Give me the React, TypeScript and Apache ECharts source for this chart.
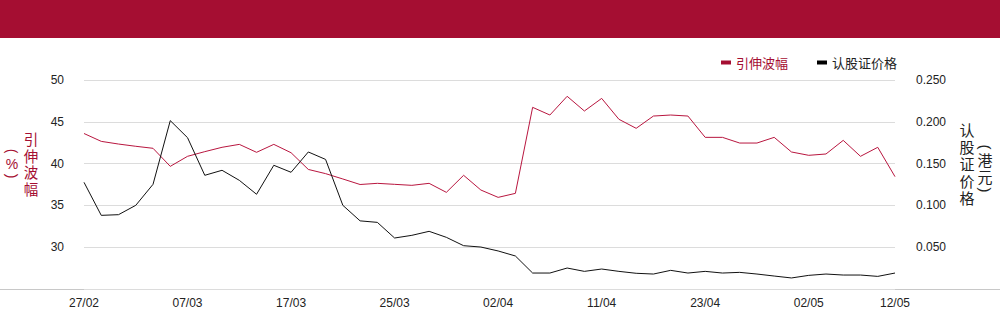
import React, { useEffect, useRef } from "react";
import * as echarts from "echarts";

const categories = [
  "27/02", "28/02", "03/03", "04/03", "05/03", "06/03", "07/03", "10/03", "11/03", "12/03",
  "13/03", "14/03", "17/03", "18/03", "19/03", "20/03", "21/03", "24/03", "25/03", "26/03",
  "27/03", "28/03", "31/03", "01/04", "02/04", "03/04", "07/04", "08/04", "09/04", "10/04",
  "11/04", "14/04", "15/04", "16/04", "17/04", "22/04", "23/04", "24/04", "25/04", "28/04",
  "29/04", "30/04", "02/05", "06/05", "07/05", "08/05", "09/05", "12/05",
];

const volatility = [
  43.6, 42.66, 42.34, 42.07, 41.83, 39.67, 40.87, 41.43, 41.95, 42.3,
  41.35, 42.3, 41.3, 39.3, 38.8, 38.16, 37.5, 37.64, 37.52, 37.4,
  37.64, 36.56, 38.6, 36.84, 35.96, 36.44, 46.73, 45.81, 48.05, 46.29,
  47.8, 45.3, 44.22, 45.69, 45.81, 45.69, 43.14, 43.14, 42.46, 42.46,
  43.14, 41.39, 40.99, 41.15, 42.78, 40.87, 41.95, 38.44,
];

const warrantPrice = [
  0.1276, 0.0881, 0.0889, 0.1001, 0.1252, 0.2014, 0.181, 0.136, 0.142, 0.13,
  0.1133, 0.148, 0.1396, 0.1639, 0.155, 0.1001, 0.0815, 0.0797, 0.061, 0.0642,
  0.069, 0.0618, 0.0518, 0.0502, 0.0455, 0.0395, 0.0191, 0.0191, 0.0251, 0.0211,
  0.0239, 0.0211, 0.0188, 0.0179, 0.0223, 0.0191, 0.0211, 0.0191, 0.0199, 0.0179,
  0.0155, 0.0132, 0.0163, 0.0179, 0.0167, 0.0167, 0.0151, 0.0191,
];

const leftTicks = { min: 25, max: 50, interval: 5 };
const rightTicks = { min: 0, max: 0.25, interval: 0.05 };

const leftNameChars = ["引", "伸", "波", "幅"];
const leftUnitChars = ["(", "%", ")"];
const rightNameChars = ["认", "股", "证", "价", "格"];
const rightUnitChars = ["(", "港", "元", ")"];

const RED = "#a50e32";
const LINE_RED = "#b8163f";
const FONT = "'Liberation Sans', Arial, sans-serif";
const CJK = "'Noto Sans CJK SC', sans-serif";
const COLFONT = "'Liberation Sans', 'Noto Sans CJK SC', sans-serif";

function column(chars: string[], x: number, ys: number[], color: string, size: number) {
  return chars.map((c, i) => {
    const isParen = c === "(" || c === ")";
    return {
      type: "text",
      x,
      y: ys[i],
      rotation: isParen ? -Math.PI / 2 : 0,
      style: {
        text: c,
        fill: color,
        font: `${size}px ${COLFONT}`,
        lineHeight: size,
        align: "center",
        verticalAlign: "middle",
      },
    };
  });
}

export default function App() {
  const ref = useRef<HTMLDivElement>(null);
  useEffect(() => {
    if (!ref.current) return;
    const chart = echarts.init(ref.current, undefined, { renderer: "svg" });
    const last = categories.length - 1;
    chart.setOption({
      animation: false,
      backgroundColor: "#fff",
      grid: { left: 84, right: 105, top: 80, bottom: 35, containLabel: false },
      legend: {
        left: 716,
        top: 51,
        icon: "rect",
        itemWidth: 10,
        itemHeight: 4,
        itemGap: 29,
        textStyle: { fontFamily: CJK, fontSize: 13 },
        data: [
          { name: "引伸波幅", textStyle: { color: RED } },
          { name: "认股证价格", textStyle: { color: "#222" } },
        ],
      },
      xAxis: {
        type: "category",
        data: categories,
        boundaryGap: false,
        axisLine: { show: false },
        axisTick: { show: false },
        axisLabel: {
          interval: (i: number) => i % 6 === 0 || i === last,
          color: "#222",
          fontFamily: FONT,
          fontSize: 12,
          margin: 8,
        },
      },
      yAxis: [
        {
          type: "value",
          min: leftTicks.min,
          max: leftTicks.max,
          interval: leftTicks.interval,
          axisLine: { show: false },
          axisTick: { show: false },
          axisLabel: { showMinLabel: false, color: "#222", fontFamily: FONT, fontSize: 12, margin: 20 },
          splitLine: { lineStyle: { color: "#dcdcdc", width: 1 } },
        },
        {
          type: "value",
          min: rightTicks.min,
          max: rightTicks.max,
          interval: rightTicks.interval,
          axisLine: { show: false },
          axisTick: { show: false },
          axisLabel: {
            showMinLabel: false,
            color: "#222",
            fontFamily: FONT,
            fontSize: 12,
            margin: 21,
            formatter: (v: number) => v.toFixed(3),
          },
          splitLine: { show: false },
        },
      ],
      series: [
        {
          name: "引伸波幅",
          type: "line",
          data: volatility,
          yAxisIndex: 0,
          showSymbol: false,
          symbol: "none",
          itemStyle: { color: RED },
          lineStyle: { color: LINE_RED, width: 1 },
        },
        {
          name: "认股证价格",
          type: "line",
          data: warrantPrice,
          yAxisIndex: 1,
          showSymbol: false,
          symbol: "none",
          itemStyle: { color: "#000" },
          lineStyle: { color: "#111", width: 1 },
        },
      ],
      graphic: [
        { type: "rect", left: 0, top: 0, shape: { width: 1000, height: 38 }, style: { fill: RED } },
        { type: "line", shape: { x1: 0, y1: 289.5, x2: 1000, y2: 289.5 }, style: { stroke: "#c8c8c8", lineWidth: 1 } },
        ...column(leftNameChars, 31, [140, 156.5, 173, 189.5], RED, 14.5),
        ...column(leftUnitChars, 12, [151, 163.5, 176], RED, 14),
        ...column(rightNameChars, 967, [130, 147, 164, 181, 198], "#222", 15),
        ...column(rightUnitChars, 985, [147, 160.5, 177, 190], "#222", 15),
      ],
    });
    return () => chart.dispose();
  }, []);
  return (
    <div
      ref={ref}
      style={{ position: "fixed", left: 0, top: 0, width: 1000, height: 324 }}
    />
  );
}
